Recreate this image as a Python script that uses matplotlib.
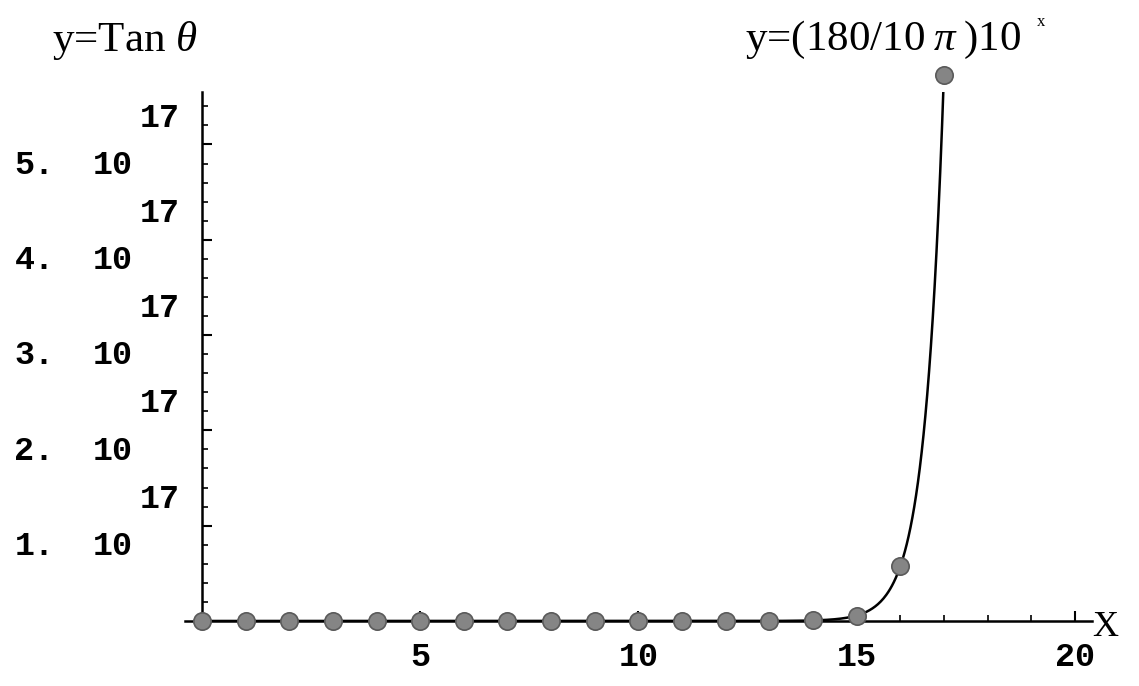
import numpy as np
import matplotlib
matplotlib.use("Agg")
import matplotlib.pyplot as plt

plt.rcParams["mathtext.fontset"] = "custom"
plt.rcParams["mathtext.rm"] = "Liberation Serif"
plt.rcParams["mathtext.it"] = "Liberation Serif:italic"

# data: y = (180/10pi) * 10^x, sampled at integers
x_points = list(range(0, 18))
y_points = [(180 / (10 * np.pi)) * 10 ** x for x in x_points]

x_ticks_major = [5, 10, 15, 20]
x_ticks_minor = list(range(1, 21))
y_ticks_major = [1e17, 2e17, 3e17, 4e17, 5e17]
y_mantissa = ["1.", "2.", "3.", "4.", "5."]
y_exponent = "17"

# smooth curve through the same function
x_curve = np.linspace(0, 17, 800)
y_curve = (180 / (10 * np.pi)) * 10 ** x_curve

fig = plt.figure(figsize=(11.39, 6.86), dpi=100)
ax = fig.add_axes([0.162, 0.0948, 0.797, 0.771])

ax.plot(x_curve, y_curve, color="black", lw=1.8, zorder=2)
ax.plot(x_points, y_points, "o", ms=12.5, color="#858585", mec="#5a5a5a",
        mew=1.2, zorder=3, clip_on=False)

ax.set_xlim(-0.4, 20.4)
ax.set_ylim(0, 5.55e17)

# axes through the origin
for s in ["top", "right"]:
    ax.spines[s].set_visible(False)
ax.spines["left"].set_position(("data", 0))
ax.spines["bottom"].set_position(("data", 0))
ax.spines["left"].set_linewidth(1.8)
ax.spines["bottom"].set_linewidth(1.8)

ax.set_xticks(x_ticks_major)
ax.set_xticks(x_ticks_minor, minor=True)
ax.set_yticks(y_ticks_major)
ax.set_yticks(np.arange(0.2e17, 5.55e17, 0.2e17), minor=True)
ax.tick_params(axis="both", which="major", direction="in", length=7, width=1.5)
ax.tick_params(axis="both", which="minor", direction="in", length=4, width=1.2)
ax.tick_params(axis="x", which="major", pad=15)
ax.set_yticklabels([])

tickfont = "Liberation Mono"
for lbl in ax.get_xticklabels():
    lbl.set_fontfamily(tickfont)
    lbl.set_fontsize(24)
    lbl.set_fontweight("bold")

# y tick labels in old style "1. 10" with exponent above
for val, m in zip(y_ticks_major, y_mantissa):
    ax.annotate(m, xy=(0, val), xycoords="data", xytext=(-135, -15),
                textcoords="offset points", ha="left", va="center",
                family=tickfont, fontsize=24, fontweight="bold")
    ax.annotate("10", xy=(0, val), xycoords="data", xytext=(-50, -15),
                textcoords="offset points", ha="right", va="center",
                family=tickfont, fontsize=24, fontweight="bold")
    ax.annotate(y_exponent, xy=(0, val), xycoords="data", xytext=(-16, 19),
                textcoords="offset points", ha="right", va="center",
                family=tickfont, fontsize=24, fontweight="bold")

fig.text(1105 / 1139, 1 - 627 / 686, "X", family="Liberation Serif", fontsize=26,
         ha="center", va="center")
fig.text(52 / 1139, 1 - 40 / 686, "y=Tan $\\theta$", family="Liberation Serif",
         fontsize=31, ha="left", va="center")
fig.text(745 / 1139, 1 - 40 / 686, "y=(180/10$\\;\\pi\\;$)10", family="Liberation Serif",
         fontsize=31, ha="left", va="center")
fig.text(1037 / 1139, 1 - 22 / 686, "x", family="Liberation Serif",
         fontsize=12, ha="left", va="center")

fig.savefig("out.png", dpi=100)
